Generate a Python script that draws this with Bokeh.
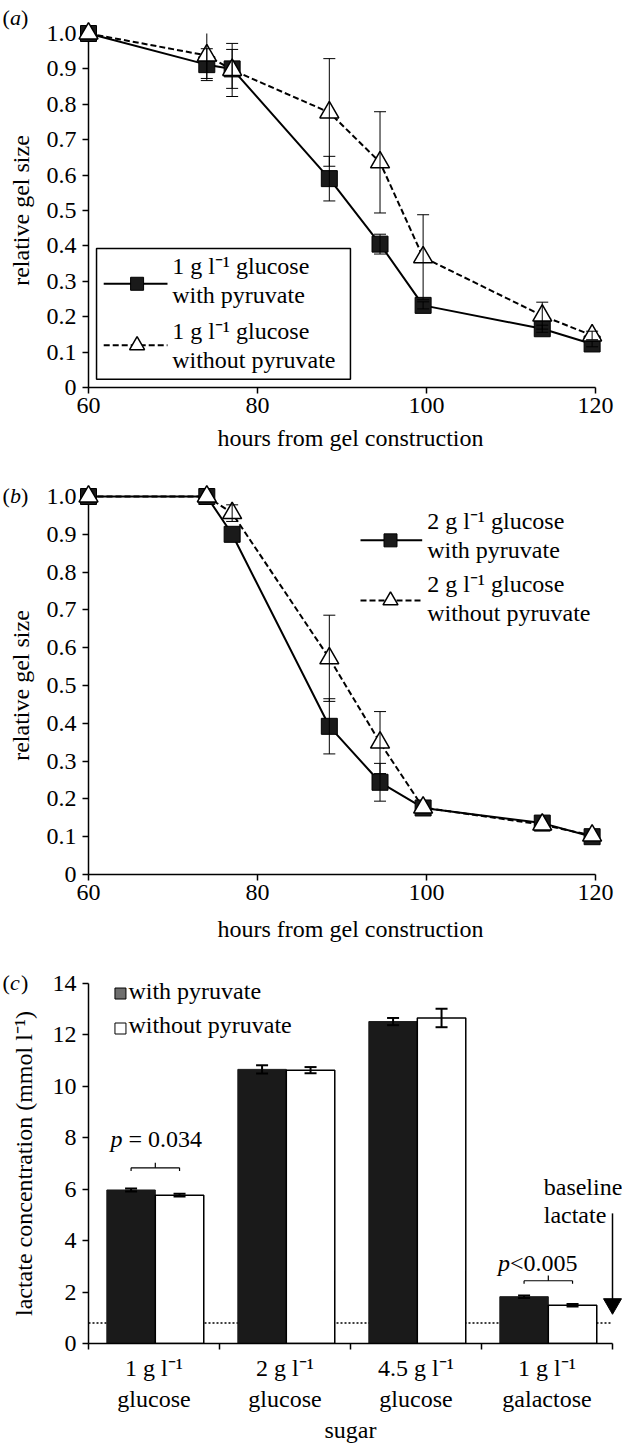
from bokeh.plotting import figure
from bokeh.layouts import column
from bokeh.models import (Range1d, FixedTicker, Whisker, TeeHead, ColumnDataSource,
                          BoxAnnotation, Span)
from bokeh.embed import file_html
from bokeh.resources import INLINE
from bokeh.core.properties import value

# ---------------- data ----------------
hours = [60, 74, 77, 88.5, 94.5, 99.6, 113.7, 119.6]

gel1_with = [1.0, 0.912, 0.900, 0.590, 0.405, 0.232, 0.166, 0.123]
gel1_with_err = [0, 0.045, 0.055, 0.063, 0.028, 0.010, 0.010, 0.008]
gel1_without = [1.0, 0.938, 0.897, 0.777, 0.636, 0.368, 0.203, 0.147]
gel1_without_err = [0, 0.065, 0.075, 0.152, 0.143, 0.120, 0.038, 0.012]

gel2_with = [1.0, 1.0, 0.900, 0.392, 0.244, 0.176, 0.136, 0.100]
gel2_with_err = [0, 0, 0, 0.073, 0.050, 0, 0, 0]
gel2_without = [1.0, 1.0, 0.956, 0.572, 0.349, 0.177, 0.132, 0.103]
gel2_without_err = [0, 0, 0.022, 0.114, 0.082, 0, 0, 0]

gel_x_ticks = [60, 80, 100, 120]
gel_y_ticks = [0, 0.1, 0.2, 0.3, 0.4, 0.5, 0.6, 0.7, 0.8, 0.9, 1.0]
gel_y_labels = ["0", "0.1", "0.2", "0.3", "0.4", "0.5", "0.6", "0.7", "0.8", "0.9", "1.0"]

sugar_line1 = ["1 g l\u207b\u00b9", "2 g l\u207b\u00b9", "4.5 g l\u207b\u00b9", "1 g l\u207b\u00b9"]
sugar_line2 = ["glucose", "glucose", "glucose", "galactose"]
lactate_with = [5.97, 10.66, 12.52, 1.82]
lactate_with_err = [0.06, 0.16, 0.14, 0.05]
lactate_without = [5.77, 10.63, 12.66, 1.49]
lactate_without_err = [0.05, 0.12, 0.36, 0.05]
lactate_y_ticks = [0, 2, 4, 6, 8, 10, 12, 14]
baseline_lactate = 0.8

p_groups = [0, 3]
p_texts = ["= 0.034", "<0.005"]
bracket_y = [6.83, 2.44]
p_text_y = [7.95, 3.15]

# ---------------- style ----------------
FONT = "Liberation Serif"
BLACK = "#1a1a1a"
W = 622
PX_PER_HOUR = 8.45           # gel panels: 60 h at the frame's left edge
FRAME_W = 524                # common frame width (all three panels)
GEL_X_END = 60 + FRAME_W / PX_PER_HOUR


def style(p, xl_standoff, yl_standoff, x_major_standoff=4, y_major_standoff=6):
    p.grid.visible = False
    p.outline_line_color = None
    p.background_fill_color = "white"
    p.border_fill_color = "white"
    for ax in p.axis:
        ax.axis_line_color = "black"
        ax.axis_line_width = 1.5
        ax.major_tick_line_color = "black"
        ax.major_tick_line_width = 1.5
        ax.major_tick_out = 6
        ax.major_tick_in = 0
        ax.minor_tick_out = 0
        ax.minor_tick_in = 0
        ax.major_label_text_font = FONT
        ax.major_label_text_font_size = "24px"
        ax.major_label_text_color = "black"
        ax.axis_label_text_font = FONT
        ax.axis_label_text_font_size = "24px"
        ax.axis_label_text_font_style = "normal"
        ax.axis_label_text_color = "black"
    p.xaxis.axis_label_standoff = xl_standoff
    p.yaxis.axis_label_standoff = yl_standoff
    p.xaxis.major_label_standoff = x_major_standoff
    p.yaxis.major_label_standoff = y_major_standoff


def add_err(p, xs, ys, errs, width=1.0, head=12):
    bx, up, lo = [], [], []
    for x, y, e in zip(xs, ys, errs):
        if e > 0:
            bx.append(x)
            up.append(y + e)
            lo.append(y - e)
    src = ColumnDataSource(dict(base=bx, upper=up, lower=lo))
    w = Whisker(source=src, base="base", upper="upper", lower="lower",
                dimension="height", level="overlay",
                line_color="black", line_width=width,
                upper_head=TeeHead(size=head, line_width=width, line_color="black"),
                lower_head=TeeHead(size=head, line_width=width, line_color="black"))
    p.add_layout(w)


def txt(p, x, y, text, size="24px", italic=False, align="left", baseline="middle"):
    p.text(x=[x], y=[y], text=[text], text_font=value(FONT), text_font_size=size,
           text_font_style="italic" if italic else "normal",
           text_color="black", text_align=align, text_baseline=baseline,
           level="overlay")


def panel_tag(p, xs, y, letter):
    txt(p, xs[0], y, "(", size="22px")
    txt(p, xs[1], y, letter, size="22px", italic=True)
    txt(p, xs[2], y, ")", size="22px")


def gel_panel(height, top, bottom, xl_standoff, y_with, e_with, y_without, e_without):
    p = figure(width=W, height=height, x_range=Range1d(60, GEL_X_END), y_range=Range1d(0, 1.0),
               output_backend="svg", toolbar_location=None,
               min_border_left=88, min_border_right=10,
               min_border_top=top, min_border_bottom=bottom)
    style(p, xl_standoff=xl_standoff, yl_standoff=10)
    p.xaxis.ticker = FixedTicker(ticks=gel_x_ticks)
    p.xaxis.bounds = (gel_x_ticks[0], gel_x_ticks[-1])
    p.yaxis.ticker = FixedTicker(ticks=gel_y_ticks)
    p.yaxis.major_label_overrides = dict(zip(gel_y_ticks, gel_y_labels))
    p.xaxis.axis_label = "hours from gel construction"
    p.yaxis.axis_label = "relative gel size"
    p.line(hours, y_without, line_color="black", line_width=2, line_dash="6 3", level="overlay")
    p.line(hours, y_with, line_color="black", line_width=2, level="overlay")
    p.scatter(hours, y_with, marker="square", size=16, fill_color=BLACK,
              line_color="black", line_width=1, level="overlay")
    p.scatter(hours, y_without, marker="triangle", size=19, fill_color="white",
              line_color="black", line_width=1.5, level="overlay")
    add_err(p, hours, y_with, e_with)
    add_err(p, hours, y_without, e_without)
    return p


def legend_entry(p, x0, x1, xm, y, dashed, marker, msize):
    p.line([x0, x1], [y, y], line_color="black", line_width=2,
           line_dash="6 3" if dashed else "solid", level="overlay")
    if marker == "square":
        p.scatter([xm], [y], marker="square", size=msize, fill_color=BLACK,
                  line_color="black", level="overlay")
    else:
        p.scatter([xm], [y], marker="triangle", size=msize, fill_color="white",
                  line_color="black", line_width=1.5, level="overlay")


# ---------------- panel (a) ----------------
pa = gel_panel(462, 33, 75, 9, gel1_with, gel1_with_err, gel1_without, gel1_without_err)
pa.add_layout(BoxAnnotation(left=60.95, right=91.0, bottom=0.023, top=0.393,
                            fill_color="white", fill_alpha=1.0,
                            line_color="black", line_alpha=1.0, line_width=1.5))
legend_entry(pa, 61.8, 69.35, 65.75, 0.293, False, "square", 13)
legend_entry(pa, 61.8, 69.35, 65.75, 0.119, True, "triangle", 15)
txt(pa, 69.9, 0.344, "1 g l\u207b\u00b9 glucose")
txt(pa, 69.9, 0.260, "with pyruvate")
txt(pa, 69.9, 0.160, "1 g l\u207b\u00b9 glucose")
txt(pa, 69.9, 0.079, "without pyruvate")
panel_tag(pa, [49.82, 50.71, 52.01], 1.044, "a")

# ---------------- panel (b) ----------------
pb = gel_panel(490, 34, 78, 13, gel2_with, gel2_with_err, gel2_without, gel2_without_err)
legend_entry(pb, 92.19, 99.49, 95.74, 0.884, False, "square", 13)
legend_entry(pb, 92.19, 99.49, 95.74, 0.725, True, "triangle", 15)
txt(pb, 100.08, 0.936, "2 g l\u207b\u00b9 glucose")
txt(pb, 100.08, 0.859, "with pyruvate")
txt(pb, 100.08, 0.768, "2 g l\u207b\u00b9 glucose")
txt(pb, 100.08, 0.693, "without pyruvate")
panel_tag(pb, [49.82, 50.71, 52.01], 1.003, "b")

# ---------------- panel (c) ----------------
n = len(sugar_line1)
pc = figure(width=W, height=496, x_range=Range1d(0, n), y_range=Range1d(0, 14),
            output_backend="svg", toolbar_location=None,
            min_border_left=88, min_border_right=10,
            min_border_top=31, min_border_bottom=105)
style(pc, xl_standoff=5, yl_standoff=13)
pc.xaxis.ticker = FixedTicker(ticks=list(range(n + 1)))
pc.xaxis.major_label_overrides = {i: "" for i in range(n + 1)}
pc.yaxis.ticker = FixedTicker(ticks=lactate_y_ticks)
pc.yaxis.axis_label = "lactate concentration (mmol l\u207b\u00b9)"

pc.add_layout(Span(location=baseline_lactate, dimension="width", line_color="black",
                   line_width=1.5, line_dash="2 2", level="underlay"))

BAR_W = 0.37
x_with = [i + 0.325 for i in range(n)]
x_without = [i + 0.695 for i in range(n)]
pc.vbar(x=x_with, top=lactate_with, width=BAR_W, bottom=0,
        fill_color=BLACK, line_color=BLACK, line_width=1)
pc.vbar(x=x_without, top=lactate_without, width=BAR_W, bottom=0,
        fill_color="white", line_color="black", line_width=1.5)
add_err(pc, x_with, lactate_with, lactate_with_err, width=2, head=12)
add_err(pc, x_without, lactate_without, lactate_without_err, width=2, head=12)

# category labels (two lines) below the axis
cx = [i + 0.5 for i in range(n)]
pc.text(x=cx, y=[-0.97] * n, text=sugar_line1, text_font=value(FONT), text_font_size="24px",
        text_align="center", text_baseline="middle", text_color="black", level="overlay")
pc.text(x=cx, y=[-2.14] * n, text=sugar_line2, text_font=value(FONT), text_font_size="24px",
        text_align="center", text_baseline="middle", text_color="black", level="overlay")
txt(pc, n / 2, -3.38, "sugar", align="center")

# significance brackets
for g, by, ty, t in zip(p_groups, bracket_y, p_text_y, p_texts):
    x0, x1 = x_with[g], x_without[g]
    xm = (x0 + x1) / 2
    pc.segment(x0=[x0, x0, x1, xm], y0=[by, by, by, by],
               x1=[x1, x0, x1, xm], y1=[by, by - 0.12, by - 0.12, by + 0.2],
               line_color="black", line_width=1.2)
    off = g + (0.168 if g == 0 else 0.125)
    txt(pc, off, ty, "p", italic=True)
    txt(pc, off + (0.137 if g == 0 else 0.092), ty, t)

# baseline lactate arrow (shaft + head) and text
pc.segment(x0=[n], y0=[5.06], x1=[n], y1=[1.5], line_color="black", line_width=1.5,
           level="overlay")
pc.scatter([n], [1.54], marker="inverted_triangle", size=18, fill_color="black",
           line_color="black", level="overlay")
txt(pc, 3.475, 6.07, "baseline")
txt(pc, 3.475, 4.98, "lactate")

# legend (c)
pc.scatter([0.244], [13.61], marker="square", size=11, fill_color="#6e6e6e", line_color="black")
pc.scatter([0.244], [12.25], marker="square", size=11, fill_color="white", line_color="black")
txt(pc, 0.305, 13.71, "with pyruvate")
txt(pc, 0.305, 12.37, "without pyruvate")

panel_tag(pc, [-0.656, -0.599, -0.515], 14.02, "c")

layout = column(pa, pb, pc, spacing=0)
open("out.html", "w").write(file_html(layout, INLINE))
